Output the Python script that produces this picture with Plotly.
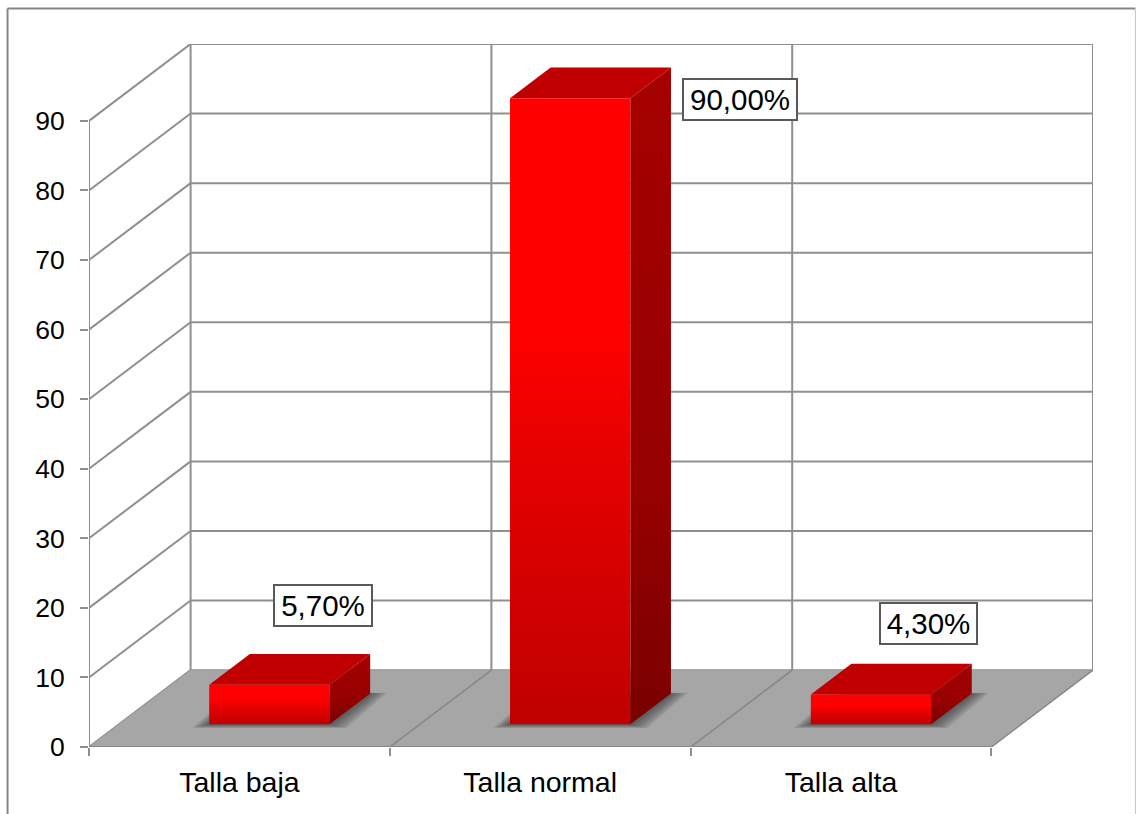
import plotly.graph_objects as go

# Chart values
categories = ["Talla baja", "Talla normal", "Talla alta"]
values = [5.7, 90.0, 4.3]
labels = ["5,70%", "90,00%", "4,30%"]
y_ticks = [0, 10, 20, 30, 40, 50, 60, 70, 80, 90]

# Oblique projection: depth expressed in axis units
DEPTH_X = 101.5 / 300.5
DEPTH_Y = 11.05
BAR_WIDTH = 0.4
BAR_FRONT = 0.295
BAR_BACK = 0.695
X_MIN, X_MAX = -0.5, 2.5
Y_MAX = y_ticks[-1]

# Manually placed data labels: pixel shift from the top-left of each bar, box width
label_shift_x = [113.4, 229.5, 117.5]
label_shift_y = [79, -1.5, 71]
label_box_width = [94, 110, 93]

GRID = "#8f8f8f"
FLOOR = "#a6a6a6"
FLOOR_LINE = "#868686"
FRAME = "#868686"
FONT = "Liberation Sans, Arial, sans-serif"

# Page layout in pixels
WIDTH, HEIGHT = 1136, 814
M_L, M_R, M_T, M_B = 88.5, 43, 44, 66.5

fig = go.Figure()


def project(x, y, d):
    """Project a point at depth fraction d onto the flat axes."""
    return x + d * DEPTH_X, y + d * DEPTH_Y


def polygon(points, **kw):
    fig.add_trace(go.Scatter(
        x=[p[0] for p in points] + [points[0][0]],
        y=[p[1] for p in points] + [points[0][1]],
        mode="lines", fill="toself", line=dict(width=0),
        hoverinfo="skip", showlegend=False, cliponaxis=False, **kw))


def segment(p, q, color=GRID, width=2):
    fig.add_trace(go.Scatter(
        x=[p[0], q[0]], y=[p[1], q[1]], mode="lines",
        line=dict(color=color, width=width),
        hoverinfo="skip", showlegend=False, cliponaxis=False))


def frame_line(px0, py0, px1, py1, color, width):
    """Outer chart border, given in page pixels."""
    plot_w = WIDTH - M_L - M_R
    plot_h = HEIGHT - M_T - M_B
    fig.add_shape(
        type="line", xref="paper", yref="paper",
        x0=(px0 - M_L) / plot_w, x1=(px1 - M_L) / plot_w,
        y0=1 - (py0 - M_T) / plot_h, y1=1 - (py1 - M_T) / plot_h,
        line=dict(color=color, width=width))


# Left and back walls
for v in y_ticks:
    segment(project(X_MIN, v, 0), project(X_MIN, v, 1))
    segment(project(X_MIN, v, 1), project(X_MAX, v, 1))
segment(project(X_MIN, 0, 0), project(X_MIN, Y_MAX, 0))
for x in [X_MIN, X_MIN + 1, X_MIN + 2, X_MAX]:
    segment(project(x, 0, 1), project(x, Y_MAX, 1))

# Floor
polygon([project(X_MIN, 0, 0), project(X_MAX, 0, 0),
         project(X_MAX, 0, 1), project(X_MIN, 0, 1)], fillcolor=FLOOR)
for x in [X_MIN + 1, X_MIN + 2, X_MAX]:
    segment(project(x, 0, 0), project(x, 0, 1), color=FLOOR_LINE, width=1.5)
segment(project(X_MIN, 0, 0), project(X_MAX, 0, 0), color=FLOOR_LINE)

# Bars as three shaded faces over a soft floor shadow
for i, value in enumerate(values):
    x0, x1 = i - BAR_WIDTH / 2, i + BAR_WIDTH / 2

    for step in range(12, 0, -1):
        grow_x = 0.0048 * step
        grow_y = 0.045 * step
        polygon([
            project(x0 - grow_x, -grow_y, BAR_FRONT),
            project(x1 + grow_x, -grow_y, BAR_FRONT),
            project(x1 + grow_x, grow_y * 0.2, BAR_BACK),
            project(x0 - grow_x, grow_y * 0.2, BAR_BACK),
        ], fillcolor="rgba(40,40,40,0.065)")

    fl, fr = project(x0, 0, BAR_FRONT), project(x1, 0, BAR_FRONT)
    tl, tr = project(x0, value, BAR_FRONT), project(x1, value, BAR_FRONT)
    br_low = project(x1, 0, BAR_BACK)
    br_top = project(x1, value, BAR_BACK)
    bl_top = project(x0, value, BAR_BACK)

    polygon([tl, tr, br_top, bl_top], fillcolor="#c00000")
    polygon([fr, br_low, br_top, tr],
            fillgradient=dict(type="vertical", colorscale=[
                [0, "#7a0000"], [0.35, "#960000"], [1, "#a60000"]]))
    polygon([fl, fr, tr, tl],
            fillgradient=dict(type="vertical", colorscale=[
                [0, "#c00000"], [0.45, "#e80000"], [0.62, "#ff0000"], [1, "#ff0000"]]))

    # Value label in a bordered box
    fig.add_annotation(
        x=tl[0], y=tl[1], xref="x", yref="y", text=labels[i], showarrow=False,
        xshift=label_shift_x[i], yshift=label_shift_y[i],
        width=label_box_width[i], height=37, align="center",
        font=dict(family=FONT, size=29.5, color="#000000"),
        bgcolor="#ffffff", bordercolor="#595959", borderwidth=2, borderpad=1)

# Outer border; its bottom edge lies beyond the page
frame_line(7, 8.5, 1135.5, 8.5, FRAME, 2)
frame_line(7, 8.5, 7, HEIGHT + 5, FRAME, 2)
frame_line(1135.5, 8.5, 1135.5, HEIGHT + 5, "#c8c8c8", 1)

fig.update_xaxes(
    range=[X_MIN, X_MAX + DEPTH_X], tickmode="array",
    tickvals=list(range(len(categories))), ticktext=categories,
    showgrid=False, zeroline=False, showline=False, ticks="", ticklabelstandoff=15,
    tickfont=dict(family=FONT, size=28.5, color="#000000"),
    minor=dict(ticks="outside", ticklen=8, tickwidth=2, tickcolor=GRID,
               tickmode="array", tickvals=[X_MIN, X_MIN + 1, X_MIN + 2, X_MAX],
               showgrid=False))
fig.update_yaxes(
    range=[0, Y_MAX + DEPTH_Y], tickmode="array", tickvals=y_ticks,
    showgrid=False, zeroline=False, showline=False,
    ticks="outside", ticklen=8, tickwidth=2, tickcolor=GRID, ticklabelstandoff=10,
    tickfont=dict(family=FONT, size=26.5, color="#000000"))

fig.update_layout(
    width=WIDTH, height=HEIGHT, autosize=False,
    margin=dict(l=M_L, r=M_R, t=M_T, b=M_B, pad=0),
    plot_bgcolor="#ffffff", paper_bgcolor="#ffffff", showlegend=False)

fig.write_html("out.html", config=dict(displayModeBar=False))
